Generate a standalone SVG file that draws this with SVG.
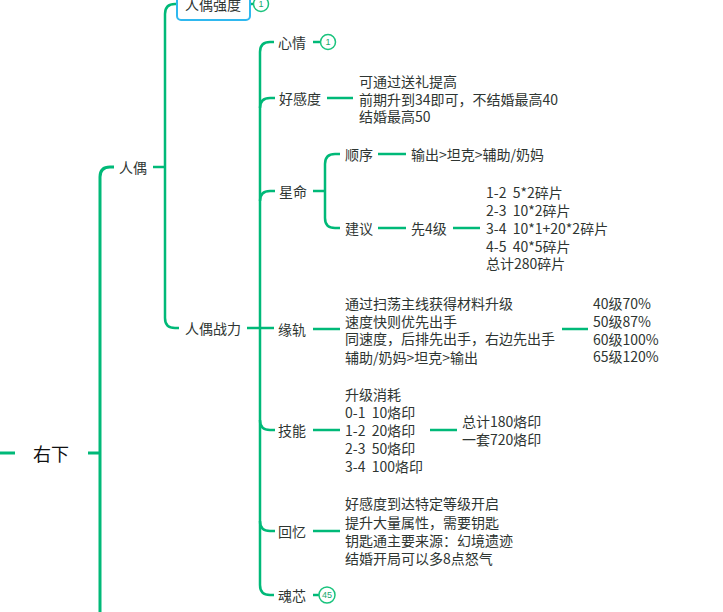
<svg xmlns="http://www.w3.org/2000/svg" width="723" height="612" viewBox="0 0 723 612">
<style>
.l{fill:none;stroke:#00b978;stroke-width:2.5;stroke-linecap:butt}
.l3{stroke-width:3}
.t{font-family:"Noto Sans CJK SC","Liberation Sans",sans-serif;font-size:14px;fill:#2e3532;dominant-baseline:central;white-space:pre}
.root{font-size:18px;fill:#111}
.b{fill:#fff;stroke:#19c37d;stroke-width:1.5}
.bt{font-family:"Liberation Sans",sans-serif;font-size:9px;fill:#19a86e;text-anchor:middle;dominant-baseline:central}
</style>
<rect width="723" height="612" fill="#fff"/>
<g id="connectors">
<path class="l l3" d="M0,453H15"/>
<path class="l l3" d="M88,453H100"/>
<path class="l l3" d="M100,612V177Q100,167 110,167H114"/>
<path class="l" d="M153,167H165"/>
<path class="l" d="M177,4H175Q165,4 165,14V318Q165,328 175,328H179"/>
<path class="l" d="M247,328H274"/>
<path class="l" d="M274,42H270Q260,42 260,52V585Q260,595 270,595H274"/>
<path class="l" d="M260,108Q260,98 270,98H275"/>
<path class="l" d="M260,201Q260,191 270,191H275"/>
<path class="l" d="M260,420Q260,430 270,430H275"/>
<path class="l" d="M260,521Q260,531 270,531H275"/>
<path class="l" d="M250,4H254"/>
<path class="l" d="M313,42H321"/>
<path class="l" d="M327,98H353"/>
<path class="l" d="M313,191H325"/>
<path class="l" d="M340,154H335Q325,154 325,164V218Q325,228 335,228H340"/>
<path class="l" d="M378,154H406"/>
<path class="l" d="M378,228H406"/>
<path class="l" d="M453,228H480"/>
<path class="l" d="M313,329H340"/>
<path class="l" d="M562,329H588"/>
<path class="l" d="M313,430H340"/>
<path class="l" d="M430,430H457"/>
<path class="l" d="M313,531H340"/>
<path class="l" d="M313,595H320"/>
</g>
<g id="n-root"><text class="t root" x="33" y="453">右下</text></g>
<g id="n-renou"><text class="t" x="119" y="167">人偶</text></g>
<g id="n-qiangdu">
<rect x="177" y="-14" width="73" height="34" rx="4" fill="#fff" stroke="#2fb8ef" stroke-width="2"/>
<text class="t" x="185" y="4">人偶强度</text>
<circle class="b" cx="261" cy="4" r="7.5"/><text class="bt" x="261" y="4">1</text>
</g>
<g id="n-zhanli"><text class="t" x="185" y="328">人偶战力</text></g>
<g id="n-xinqing"><text class="t" x="278" y="42">心情</text>
<circle class="b" cx="328" cy="42" r="7.5"/><text class="bt" x="328" y="42">1</text></g>
<g id="n-haogan"><text class="t" x="279" y="98">好感度</text></g>
<g id="n-haogan-d"><text class="t" x="359" y="81"><tspan x="359" y="81">可通过送礼提高</tspan><tspan x="359" y="99">前期升到34即可，不结婚最高40</tspan><tspan x="359" y="116">结婚最高50</tspan></text></g>
<g id="n-xingming"><text class="t" x="279" y="191">星命</text></g>
<g id="n-shunxu"><text class="t" x="345" y="154">顺序</text></g>
<g id="n-shunxu-d"><text class="t" x="411" y="154">输出&gt;坦克&gt;辅助/奶妈</text></g>
<g id="n-jianyi"><text class="t" x="345" y="228">建议</text></g>
<g id="n-xian4"><text class="t" x="411" y="228">先4级</text></g>
<g id="n-xian4-d"><text class="t" x="486" y="192" xml:space="preserve"><tspan x="486" y="192">1-2  5*2碎片</tspan><tspan x="486" y="210">2-3  10*2碎片</tspan><tspan x="486" y="228">3-4  10*1+20*2碎片</tspan><tspan x="486" y="246">4-5  40*5碎片</tspan><tspan x="486" y="263">总计280碎片</tspan></text></g>
<g id="n-yuangui"><text class="t" x="278" y="329">缘轨</text></g>
<g id="n-yuangui-d"><text class="t" x="345" y="303"><tspan x="345" y="303">通过扫荡主线获得材料升级</tspan><tspan x="345" y="321">速度快则优先出手</tspan><tspan x="345" y="338">同速度，后排先出手，右边先出手</tspan><tspan x="345" y="357">辅助/奶妈&gt;坦克&gt;输出</tspan></text></g>
<g id="n-yuangui-e"><text class="t" x="593" y="303"><tspan x="593" y="303">40级70%</tspan><tspan x="593" y="321">50级87%</tspan><tspan x="593" y="339">60级100%</tspan><tspan x="593" y="356">65级120%</tspan></text></g>
<g id="n-jineng"><text class="t" x="278" y="430">技能</text></g>
<g id="n-jineng-d"><text class="t" x="345" y="394" xml:space="preserve"><tspan x="345" y="394">升级消耗</tspan><tspan x="345" y="412">0-1  10烙印</tspan><tspan x="345" y="430">1-2  20烙印</tspan><tspan x="345" y="448">2-3  50烙印</tspan><tspan x="345" y="466">3-4  100烙印</tspan></text></g>
<g id="n-jineng-e"><text class="t" x="462" y="421"><tspan x="462" y="421">总计180烙印</tspan><tspan x="462" y="439">一套720烙印</tspan></text></g>
<g id="n-huiyi"><text class="t" x="278" y="531">回忆</text></g>
<g id="n-huiyi-d"><text class="t" x="345" y="503"><tspan x="345" y="503">好感度到达特定等级开启</tspan><tspan x="345" y="522">提升大量属性，需要钥匙</tspan><tspan x="345" y="540">钥匙通主要来源：幻境遗迹</tspan><tspan x="345" y="558">结婚开局可以多8点怒气</tspan></text></g>
<g id="n-huixin"><text class="t" x="278" y="595">魂芯</text>
<circle class="b" cx="327" cy="595" r="8"/><text class="bt" x="327" y="595">45</text></g>
</svg>
